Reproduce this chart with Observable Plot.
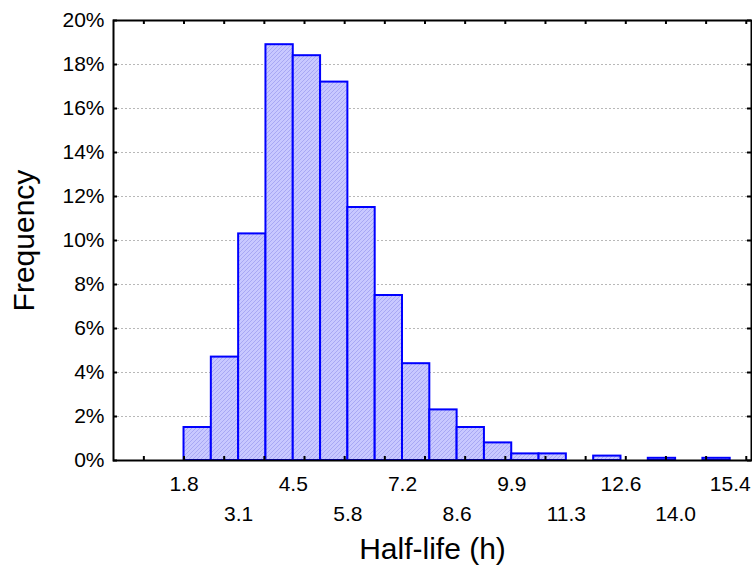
<!DOCTYPE html>
<html>
<head>
<meta charset="utf-8">
<script src="https://cdn.jsdelivr.net/npm/d3@7"></script>
<script src="https://cdn.jsdelivr.net/npm/@observablehq/plot@0.6"></script>
<style>
  html, body { margin: 0; padding: 0; background: #fff; }
  #chart { width: 752px; height: 570px; }
</style>
</head>
<body>
<div id="chart"></div>
<script>
// ---- data ----
const binStart = 1.8;          // left edge of first bin (h)
const binWidth = 0.68;         // bin width (h)
const frequency = [1.5, 4.7, 10.3, 18.9, 18.4, 17.2, 11.5, 7.5, 4.4, 2.3,
                   1.5, 0.8, 0.3, 0.3, 0, 0.2, 0, 0.1, 0, 0.1]; // % per bin
const xLabelsRow1 = [[1.8, "1.8"], [4.52, "4.5"], [7.24, "7.2"], [9.96, "9.9"], [12.68, "12.6"], [15.4, "15.4"]];
const xLabelsRow2 = [[3.16, "3.1"], [5.88, "5.8"], [8.6, "8.6"], [11.32, "11.3"], [14.04, "14.0"]];
const xMinorTicks = [0.8, 1.8, 2.8, 3.8, 4.8, 5.8, 6.8, 7.8, 8.8, 9.8, 10.8, 11.8, 12.8, 13.8, 14.8, 15.8];
const yTicks = [0, 2, 4, 6, 8, 10, 12, 14, 16, 18, 20];
const yGrid = [2, 4, 6, 8, 10, 12, 14, 16, 18];
const xDomain = [0.044, 15.93];
const yDomain = [0, 20];

const bins = frequency.map((v, i) => ({
  x1: binStart + i * binWidth,
  x2: binStart + (i + 1) * binWidth,
  v
})).filter(d => d.v > 0);

const W = 752, H = 570;
const mTop = 20, mBottom = 110, mLeft = 113, mRight = 1;
const plotH = H - mTop - mBottom;
const plotW = W - mLeft - mRight;
const tickLen = 4;
const font = "Liberation Sans, Arial, sans-serif";

const svg = Plot.plot({
  width: W,
  height: H,
  marginTop: mTop,
  marginBottom: mBottom,
  marginLeft: mLeft,
  marginRight: mRight,
  style: { fontFamily: font, background: "#fff", color: "#000", overflow: "visible" },
  x: { domain: xDomain, axis: null },
  y: { domain: yDomain, axis: null },
  marks: [
    Plot.ruleY(yGrid, { y: d => d, stroke: "#b8b8b8", strokeWidth: 1, strokeDasharray: "2,2" }),
    Plot.rectY(bins, { x1: "x1", x2: "x2", y: "v", fill: "url(#hatch)", stroke: "#0000ff", strokeWidth: 2 }),
    // inward ticks bottom / top
    Plot.tickX(xMinorTicks, { x: d => d, insetTop: plotH - tickLen, stroke: "#000", strokeWidth: 2 }),
    Plot.tickX(xMinorTicks, { x: d => d, insetBottom: plotH - tickLen, stroke: "#000", strokeWidth: 2 }),
    // inward ticks left / right
    Plot.tickY(yTicks, { y: d => d, insetRight: plotW - tickLen, stroke: "#000", strokeWidth: 2 }),
    Plot.tickY(yTicks, { y: d => d, insetLeft: plotW - tickLen, stroke: "#000", strokeWidth: 2 }),
    Plot.frame({ stroke: "#000", strokeWidth: 2 }),
    // y tick labels
    Plot.text(yTicks, { y: d => d, text: d => d + "%", frameAnchor: "left", textAnchor: "end", lineAnchor: "middle", dx: -9, fontSize: 21, fill: "#000" }),
    // x tick labels (two staggered rows)
    Plot.text(xLabelsRow1, { x: d => d[0], text: d => d[1], frameAnchor: "bottom", lineAnchor: "middle", textAnchor: "middle", dy: 24, fontSize: 21, fill: "#000" }),
    Plot.text(xLabelsRow2, { x: d => d[0], text: d => d[1], frameAnchor: "bottom", lineAnchor: "middle", textAnchor: "middle", dy: 54, fontSize: 21, fill: "#000" }),
    // axis titles
    Plot.text(["Half-life (h)"], { text: d => d, frameAnchor: "bottom", lineAnchor: "middle", textAnchor: "middle", dy: 89, fontSize: 30, fill: "#000" }),
    Plot.text(["Frequency"], { text: d => d, frameAnchor: "left", lineAnchor: "middle", textAnchor: "middle", dx: -89, rotate: -90, fontSize: 30, fill: "#000" })
  ]
});

// hatch pattern for bar fill
const ns = "http://www.w3.org/2000/svg";
const defs = document.createElementNS(ns, "defs");
const pat = document.createElementNS(ns, "pattern");
pat.setAttribute("id", "hatch");
pat.setAttribute("patternUnits", "userSpaceOnUse");
pat.setAttribute("width", "4");
pat.setAttribute("height", "4");
const bg = document.createElementNS(ns, "rect");
bg.setAttribute("width", "4");
bg.setAttribute("height", "4");
bg.setAttribute("fill", "#c8c8ff");
pat.appendChild(bg);
const ln = document.createElementNS(ns, "path");
ln.setAttribute("d", "M-1,1 L1,-1 M0,4 L4,0 M3,5 L5,3");
ln.setAttribute("stroke", "#a8a8f4");
ln.setAttribute("stroke-width", "1");
pat.appendChild(ln);
defs.appendChild(pat);
svg.insertBefore(defs, svg.firstChild);

document.getElementById("chart").appendChild(svg);
</script>
</body>
</html>
